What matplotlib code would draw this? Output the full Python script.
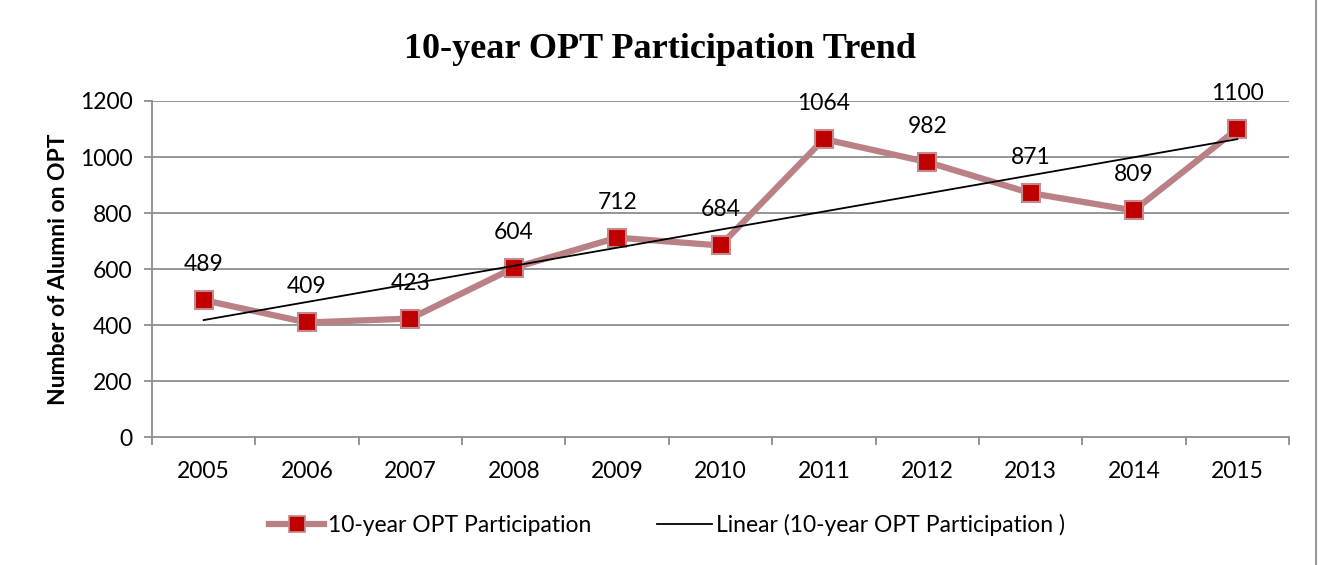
import numpy as np
import matplotlib
matplotlib.use("Agg")
import matplotlib.pyplot as plt
from matplotlib.lines import Line2D

years = ["2005", "2006", "2007", "2008", "2009", "2010",
         "2011", "2012", "2013", "2014", "2015"]
participants = [489, 409, 423, 604, 712, 684, 1064, 982, 871, 809, 1100]
y_ticks = [0, 200, 400, 600, 800, 1000, 1200]

W, H = 1318, 565
fig = plt.figure(figsize=(W / 100, H / 100), dpi=100)
fig.patch.set_facecolor("white")

# plot area in pixel coordinates
left, right, top, bottom = 152, 1289, 101, 437
ax = fig.add_axes([left / W, 1 - bottom / H, (right - left) / W, (bottom - top) / H])

body_font = "Lato"
fs = 16.5
x = np.arange(len(years))

ax.set_xlim(-0.5, len(years) - 0.5)
ax.set_ylim(0, 1200)
ax.set_yticks(y_ticks)
ax.set_yticklabels([str(v) for v in y_ticks], fontsize=fs, family=body_font)
for yv in y_ticks[1:]:
    ax.axhline(yv, color="#8c8c8c", lw=1.3, zorder=0)

ax.set_xticks(np.arange(-0.5, len(years) + 0.5, 1))
ax.set_xticklabels([])
ax.set_xticks(x, minor=True)
ax.set_xticklabels(years, minor=True, fontsize=fs, family=body_font)
ax.tick_params(axis="x", which="major", length=6, color="#8c8c8c", width=1.3, direction="out")
ax.tick_params(axis="x", which="minor", length=0, pad=17)
ax.tick_params(axis="y", length=6, color="#8c8c8c", width=1.3, pad=8)

for side in ["top", "right"]:
    ax.spines[side].set_visible(False)
for side in ["left", "bottom"]:
    ax.spines[side].set_color("#8c8c8c")
    ax.spines[side].set_linewidth(1.3)

# data series
ax.plot(x, participants, color="#b98185", lw=4.5, marker="s", markersize=13,
        markerfacecolor="#c00000", markeredgecolor="#c48a8e", markeredgewidth=1.5,
        zorder=3, clip_on=False)

# linear trendline
slope, intercept = np.polyfit(x, participants, 1)
ax.plot(x, slope * x + intercept, color="black", lw=1.3, zorder=4)

# value labels
for xi, v in zip(x, participants):
    ax.annotate(str(v), (xi, v), xytext=(0, 18), textcoords="offset points",
                ha="center", va="bottom", fontsize=fs, family=body_font, zorder=5)

ax.set_ylabel("Number of Alumni on OPT", fontsize=fs, fontweight="bold",
              family=body_font, labelpad=8)

fig.text(660 / W, 1 - 50 / H, "10-year OPT Participation Trend", ha="center", va="center",
         fontsize=26, fontweight="bold", family="Liberation Serif")

handles = [
    Line2D([], [], color="#b98185", lw=4.5, marker="s", markersize=12,
           markerfacecolor="#c00000", markeredgecolor="#c48a8e", markeredgewidth=1.2),
    Line2D([], [], color="black", lw=1.3),
]
labels = ["10-year OPT Participation", "Linear (10-year OPT Participation )"]
fig.legend(handles, labels, loc="center", bbox_to_anchor=(667 / W, 1 - 525 / H),
           ncol=2, frameon=False, prop={"family": body_font, "size": fs},
           handlelength=2.4, handletextpad=0.15, columnspacing=2.9)

# outer frame edge
fig.add_artist(Line2D([1316 / W, 1316 / W], [0, 1], color="#9a9a9a", lw=1.5,
                      transform=fig.transFigure))

fig.savefig("out.png", dpi=100, facecolor="white")
